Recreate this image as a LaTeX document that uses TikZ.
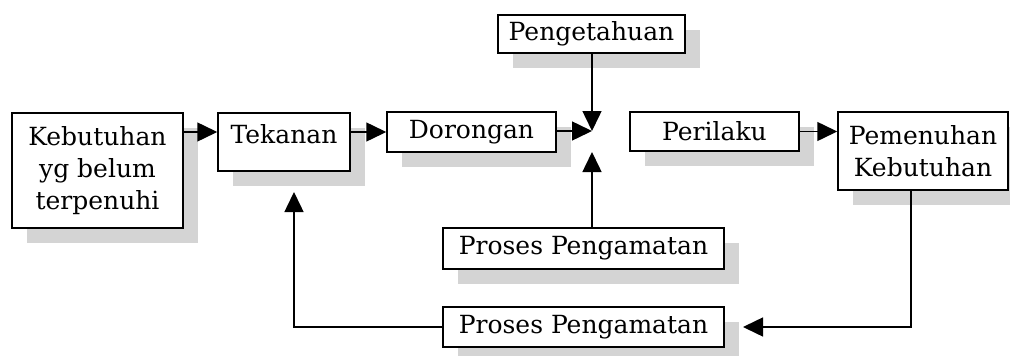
\documentclass[tikz,border=0pt]{standalone}
\usepackage{fontspec}
\setmainfont{DejaVu Serif}
\usetikzlibrary{arrows.meta,shadows}
\begin{document}
\begin{tikzpicture}[x=1pt,y=-1pt,
  box/.style={draw, line width=1.5pt, fill=white, inner sep=0pt, align=center,
    font=\fontsize{25}{32}\selectfont,
    drop shadow={shadow xshift=15pt, shadow yshift=-15pt, fill=black!17, opacity=1}},
  conn/.style={line width=1.5pt, -{Triangle[length=20pt,width=19pt]}},
  wire/.style={line width=1.5pt}]
\useasboundingbox (0,0) rectangle (1010,356);

% boxes
\node[box, minimum width=171pt, minimum height=115pt] (keb) at (97.5,170.5) {Kebutuhan\\yg belum\\terpenuhi};
\node[box, minimum width=132pt, minimum height=58pt] (tek) at (284,142) {\raisebox{15pt}{Tekanan}};
\node[box, minimum width=169pt, minimum height=40pt] (dor) at (471.5,132) {Dorongan};
\node[box, minimum width=187pt, minimum height=38pt] (peng) at (591.5,34) {Pengetahuan};
\node[box, minimum width=281pt, minimum height=41pt] (pp1) at (583.5,248.5) {Proses Pengamatan};
\node[box, minimum width=169pt, minimum height=39pt] (peril) at (714.5,131.5) {Perilaku};
\node[box, minimum width=170pt, minimum height=78pt] (pem) at (923,151) {Pemenuhan\\Kebutuhan};
\node[box, minimum width=281pt, minimum height=40pt] (pp2) at (583.5,327) {Proses Pengamatan};

% helper points
\coordinate (row) at (0,132);
\coordinate (J) at (592,131);
\coordinate (J2) at (592,152);
\coordinate (drop) at (911,0);
\coordinate (tip2) at (743,327);
\coordinate (up) at (294,192);

% connectors
\draw[conn] (keb.east |- row) -- (tek.west |- row);
\draw[conn] (tek.east |- row) -- (dor.west |- row);
\draw[conn] (dor.east |- J) -- (J);
\draw[conn] (peng.south -| J) -- (J);
\draw[conn] (pp1.north -| J) -- (J2);
\draw[conn] (peril.east) -- (pem.west |- peril);
\draw[conn] (pem.south -| drop) |- (tip2);
\draw[conn] (pp2.west) -| (up);
\end{tikzpicture}
\end{document}
